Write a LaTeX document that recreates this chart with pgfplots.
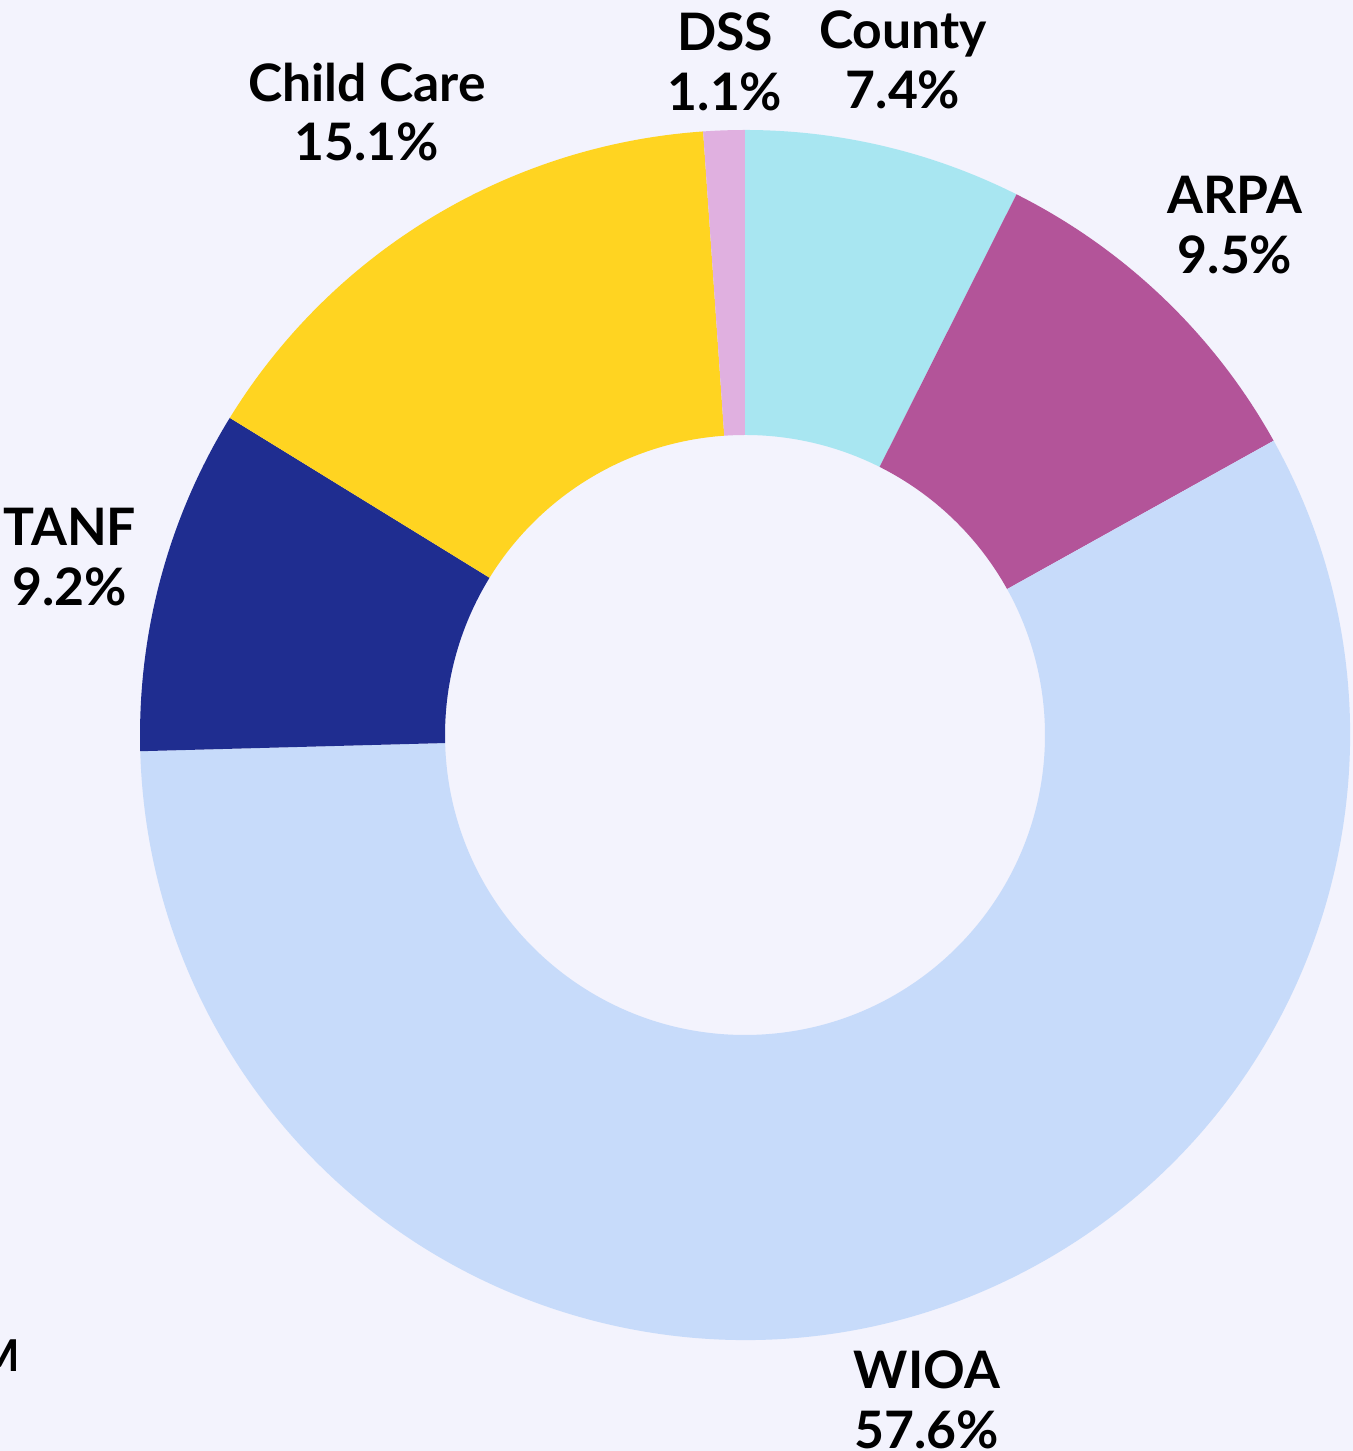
\documentclass[border=0pt]{standalone}
\usepackage{pgfplots}
\pgfplotsset{compat=1.18}
\usepackage{fontspec}
\setmainfont{Lato}
\definecolor{bg}{HTML}{F3F3FD}
\definecolor{cCounty}{HTML}{A8E6F1}
\definecolor{cARPA}{HTML}{B35499}
\definecolor{cWIOA}{HTML}{C7DBFA}
\definecolor{cTANF}{HTML}{1F2D90}
\definecolor{cChild}{HTML}{FFD421}
\definecolor{cDSS}{HTML}{E0B0E0}
% shares in percent (clockwise from 12 o'clock)
\def\pCounty{7.4}
\def\pARPA{9.5}
\def\pWIOA{57.6}
\def\pTANF{9.2}
\def\pChild{15.1}
\def\pDSS{1.1}
\newcommand\lbl[3]{\node[font=\fontsize{14.7}{17}\selectfont\bfseries,align=center,text=black] at (axis cs:#1,#2) {#3};}
\begin{document}
\begin{tikzpicture}
\pgfmathsetmacro\tot{\pCounty+\pARPA+\pWIOA+\pTANF+\pChild+\pDSS}
\pgfmathsetmacro\aA{90}
\pgfmathsetmacro\aB{\aA-\pCounty/\tot*360}
\pgfmathsetmacro\aC{\aB-\pARPA/\tot*360}
\pgfmathsetmacro\aD{\aC-\pWIOA/\tot*360}
\pgfmathsetmacro\aE{\aD-\pTANF/\tot*360}
\pgfmathsetmacro\aF{\aE-\pChild/\tot*360}
\pgfmathsetmacro\aG{\aF-\pDSS/\tot*360}
\def\Ro{6.05}
\def\Ri{3.0}
\newcommand\wedgeseg[3]{\fill[#3] (axis cs:{\Ro*cos(#1)},{\Ro*sin(#1)}) arc[start angle=#1, end angle=#2, radius=\Ro cm] -- (axis cs:{\Ri*cos(#2)},{\Ri*sin(#2)}) arc[start angle=#2, end angle=#1, radius=\Ri cm] -- cycle;}
\begin{axis}[
  x=1cm, y=1cm,
  xmin=-7.45, xmax=6.08, ymin=-7.16, ymax=7.35,
  hide axis,
  axis background/.style={fill=bg},
  clip=true,
]
\addplot[draw=none] coordinates {(0,0)};
\wedgeseg{\aA}{\aB}{cCounty}
\wedgeseg{\aB}{\aC}{cARPA}
\wedgeseg{\aC}{\aD}{cWIOA}
\wedgeseg{\aD}{\aE}{cTANF}
\wedgeseg{\aE}{\aF}{cChild}
\wedgeseg{\aF}{\aG}{cDSS}
\lbl{-0.20}{6.73}{DSS\\1.1\%}
\lbl{1.58}{6.75}{County\\7.4\%}
\lbl{-3.78}{6.23}{Child Care\\15.1\%}
\lbl{4.90}{5.10}{ARPA\\9.5\%}
\lbl{-6.75}{1.78}{TANF\\9.2\%}
\lbl{1.82}{-6.65}{WIOA\\57.6\%}
\node[font=\fontsize{12.5}{15}\selectfont\bfseries,anchor=east,text=black,inner sep=0pt] at (axis cs:-7.24,-6.21) {\$0.4M};
\coordinate (bl) at (axis cs:-7.45,-7.16);
\coordinate (tr) at (axis cs:6.08,7.35);
\end{axis}
\pgfresetboundingbox
\path (bl) rectangle (tr);
\end{tikzpicture}
\end{document}
